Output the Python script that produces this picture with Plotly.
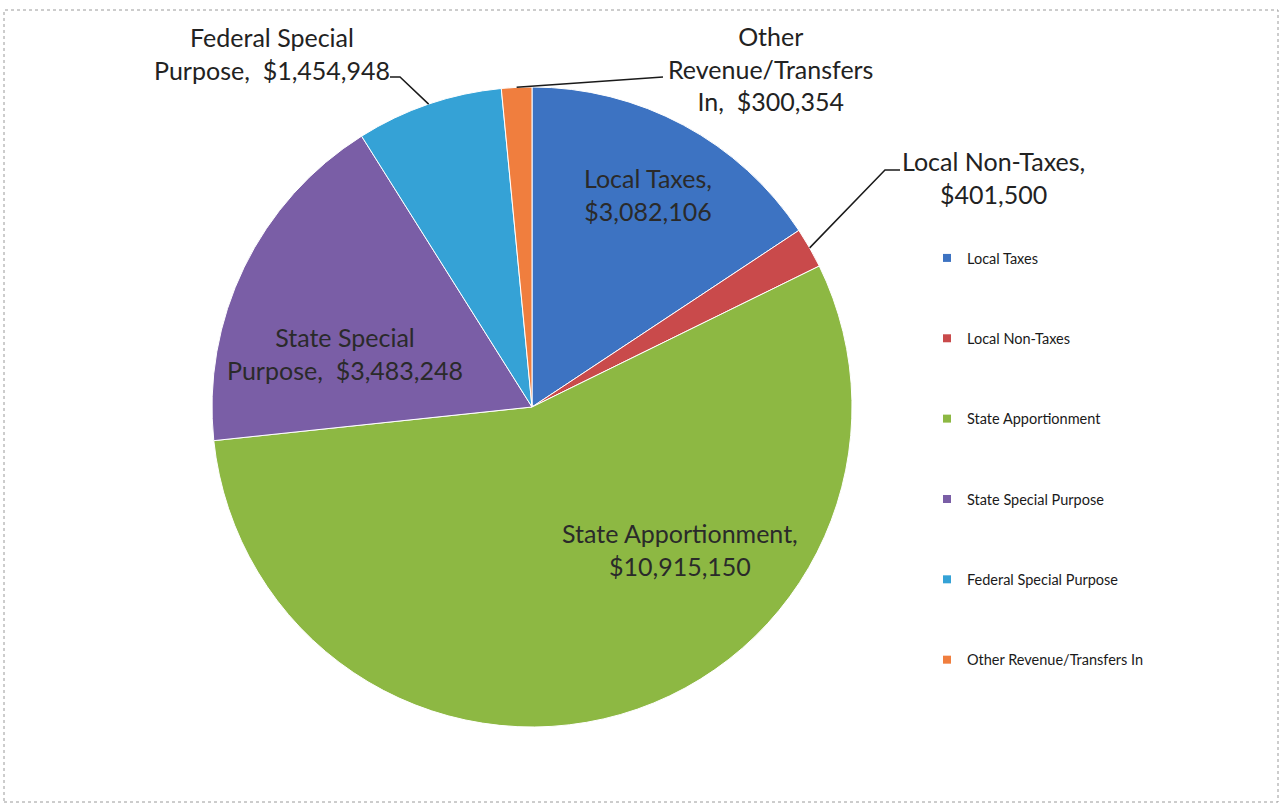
import math
import plotly.graph_objects as go

categories = ["Local Taxes", "Local Non-Taxes", "State Apportionment",
              "State Special Purpose", "Federal Special Purpose",
              "Other Revenue/Transfers In"]
values = [3082106, 401500, 10915150, 3483248, 1454948, 300354]
colors = ["#3d73c2", "#c94a4b", "#8db843", "#7a5ea6", "#35a2d6", "#f07e3e"]

W, H = 1282, 804
cx, cy, r = 532, 407, 320

def px(x):
    return x / W

def py(y):
    return 1 - y / H

def fmt(v):
    return "${:,.0f}".format(v)

total = sum(values)

def edge(i):
    before = sum(values[:i]) + values[i] / 2
    a = before / total * 2 * math.pi
    return cx + r * math.sin(a), cy - r * math.cos(a)

FONT = "Lato, 'Open Sans', sans-serif"

fig = go.Figure()
fig.add_trace(go.Pie(
    labels=categories, values=values, sort=False, direction="clockwise",
    rotation=0, textinfo="none", showlegend=False,
    marker=dict(colors=colors, line=dict(color="white", width=1)),
    domain=dict(x=[px(cx - r), px(cx + r)], y=[py(cy + r), py(cy - r)]),
))

for name, col in zip(categories, colors):
    fig.add_trace(go.Scatter(
        x=[None], y=[None], mode="markers", name=name, legendgroup=name,
        marker=dict(symbol="square", size=8, color=col), showlegend=True,
    ))

sp = "\u00a0 "
labels_txt = [
    f"{categories[0]},<br>{fmt(values[0])}",
    f"Local Non-Taxes,<br>{fmt(values[1])}",
    f"{categories[2]},<br>{fmt(values[2])}",
    f"State Special<br>Purpose,{sp}{fmt(values[3])}",
    f"Federal Special<br>Purpose,{sp}{fmt(values[4])}",
    f"Other<br>Revenue/Transfers<br>In,{sp}{fmt(values[5])}",
]
label_pos = [(648, 194), (993, 178), (680, 549), (345, 353), (272, 53), (770, 69)]
label_col = ["#2a2a2a", "#222222", "#2a2a2a", "#2a2a2a", "#222222", "#222222"]

annotations = []
for t, (x, y), c in zip(labels_txt, label_pos, label_col):
    annotations.append(dict(
        x=px(x), y=py(y), xref="paper", yref="paper", text=t, showarrow=False,
        xanchor="center", yanchor="middle", align="center",
        font=dict(family=FONT, size=25, color=c),
    ))

shapes = []
# leader lines (edge point computed from data)
lead = {1: [(885, 170), (900, 170)], 4: [(400, 77), (390, 77)], 5: [(663, 77)]}
for i, pts in lead.items():
    ex, ey = edge(i)
    path = f"M {px(ex)} {py(ey)}" + "".join(f" L {px(a)} {py(b)}" for a, b in pts)
    shapes.append(dict(type="path", xref="paper", yref="paper", path=path,
                       line=dict(color="#1a1a1a", width=1.5)))
# outer frame
shapes.append(dict(type="rect", xref="paper", yref="paper",
                   x0=px(4), x1=px(1278), y0=py(802), y1=py(10),
                   line=dict(color="#9a9a9a", width=1, dash="dot")))

fig.update_layout(
    width=W, height=H, margin=dict(l=0, r=0, t=0, b=0),
    paper_bgcolor="white", plot_bgcolor="white",
    xaxis=dict(visible=False), yaxis=dict(visible=False),
    showlegend=True,
    legend=dict(x=px(927), y=py(242), xanchor="left", yanchor="top",
                tracegroupgap=58.5, itemwidth=30,
                font=dict(family=FONT, size=14.5, color="#1a1a1a"),
                bgcolor="rgba(0,0,0,0)"),
    annotations=annotations, shapes=shapes,
)

fig.write_html("out.html")
